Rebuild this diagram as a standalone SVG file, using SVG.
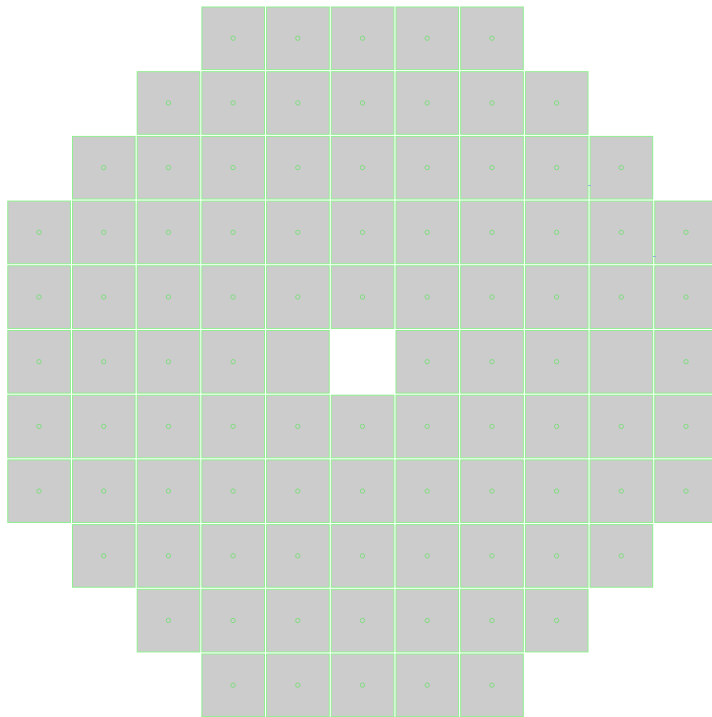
<svg xmlns="http://www.w3.org/2000/svg" width="712" height="717" viewBox="0 0 712 717">
<style>
.cell{fill:#cccccc;stroke:#90ee90;stroke-width:1}
.dot{fill:none;stroke:#80dd80;stroke-width:1}
.tick{stroke:#99aadd;stroke-width:1}
</style>
<rect width="712" height="717" fill="#ffffff"/>
<defs>
<g id="cellDot"><rect class="cell" x="0.5" y="0.5" width="62.6" height="62.6"/><circle class="dot" cx="31.7" cy="31.7" r="2.2"/></g>
<g id="cellPlain"><rect class="cell" x="0.5" y="0.5" width="62.6" height="62.6"/></g>
</defs>
<g id="row0">
<g id="n0_3" transform="translate(201.4,6.5)"><use href="#cellDot"/></g>
<g id="n0_4" transform="translate(266.1,6.5)"><use href="#cellDot"/></g>
<g id="n0_5" transform="translate(330.8,6.5)"><use href="#cellDot"/></g>
<g id="n0_6" transform="translate(395.5,6.5)"><use href="#cellDot"/></g>
<g id="n0_7" transform="translate(460.2,6.5)"><use href="#cellDot"/></g>
</g>
<g id="row1">
<g id="n1_2" transform="translate(136.7,71.2)"><use href="#cellDot"/></g>
<g id="n1_3" transform="translate(201.4,71.2)"><use href="#cellDot"/></g>
<g id="n1_4" transform="translate(266.1,71.2)"><use href="#cellDot"/></g>
<g id="n1_5" transform="translate(330.8,71.2)"><use href="#cellDot"/></g>
<g id="n1_6" transform="translate(395.5,71.2)"><use href="#cellDot"/></g>
<g id="n1_7" transform="translate(460.2,71.2)"><use href="#cellDot"/></g>
<g id="n1_8" transform="translate(524.9,71.2)"><use href="#cellDot"/></g>
</g>
<g id="row2">
<g id="n2_1" transform="translate(72.0,135.9)"><use href="#cellDot"/></g>
<g id="n2_2" transform="translate(136.7,135.9)"><use href="#cellDot"/></g>
<g id="n2_3" transform="translate(201.4,135.9)"><use href="#cellDot"/></g>
<g id="n2_4" transform="translate(266.1,135.9)"><use href="#cellDot"/></g>
<g id="n2_5" transform="translate(330.8,135.9)"><use href="#cellDot"/></g>
<g id="n2_6" transform="translate(395.5,135.9)"><use href="#cellDot"/></g>
<g id="n2_7" transform="translate(460.2,135.9)"><use href="#cellDot"/></g>
<g id="n2_8" transform="translate(524.9,135.9)"><use href="#cellDot"/></g>
<g id="n2_9" transform="translate(589.6,135.9)"><use href="#cellDot"/></g>
</g>
<g id="row3">
<g id="n3_0" transform="translate(7.3,200.6)"><use href="#cellDot"/></g>
<g id="n3_1" transform="translate(72.0,200.6)"><use href="#cellDot"/></g>
<g id="n3_2" transform="translate(136.7,200.6)"><use href="#cellDot"/></g>
<g id="n3_3" transform="translate(201.4,200.6)"><use href="#cellDot"/></g>
<g id="n3_4" transform="translate(266.1,200.6)"><use href="#cellDot"/></g>
<g id="n3_5" transform="translate(330.8,200.6)"><use href="#cellDot"/></g>
<g id="n3_6" transform="translate(395.5,200.6)"><use href="#cellDot"/></g>
<g id="n3_7" transform="translate(460.2,200.6)"><use href="#cellDot"/></g>
<g id="n3_8" transform="translate(524.9,200.6)"><use href="#cellDot"/></g>
<g id="n3_9" transform="translate(589.6,200.6)"><use href="#cellDot"/></g>
<g id="n3_10" transform="translate(654.3,200.6)"><use href="#cellDot"/></g>
</g>
<g id="row4">
<g id="n4_0" transform="translate(7.3,265.3)"><use href="#cellDot"/></g>
<g id="n4_1" transform="translate(72.0,265.3)"><use href="#cellDot"/></g>
<g id="n4_2" transform="translate(136.7,265.3)"><use href="#cellDot"/></g>
<g id="n4_3" transform="translate(201.4,265.3)"><use href="#cellDot"/></g>
<g id="n4_4" transform="translate(266.1,265.3)"><use href="#cellDot"/></g>
<g id="n4_5" transform="translate(330.8,265.3)"><use href="#cellDot"/></g>
<g id="n4_6" transform="translate(395.5,265.3)"><use href="#cellDot"/></g>
<g id="n4_7" transform="translate(460.2,265.3)"><use href="#cellDot"/></g>
<g id="n4_8" transform="translate(524.9,265.3)"><use href="#cellDot"/></g>
<g id="n4_9" transform="translate(589.6,265.3)"><use href="#cellDot"/></g>
<g id="n4_10" transform="translate(654.3,265.3)"><use href="#cellDot"/></g>
</g>
<g id="row5">
<g id="n5_0" transform="translate(7.3,330.0)"><use href="#cellDot"/></g>
<g id="n5_1" transform="translate(72.0,330.0)"><use href="#cellDot"/></g>
<g id="n5_2" transform="translate(136.7,330.0)"><use href="#cellDot"/></g>
<g id="n5_3" transform="translate(201.4,330.0)"><use href="#cellDot"/></g>
<g id="n5_4" transform="translate(266.1,330.0)"><use href="#cellPlain"/></g>
<g id="n5_6" transform="translate(395.5,330.0)"><use href="#cellDot"/></g>
<g id="n5_7" transform="translate(460.2,330.0)"><use href="#cellDot"/></g>
<g id="n5_8" transform="translate(524.9,330.0)"><use href="#cellDot"/></g>
<g id="n5_9" transform="translate(589.6,330.0)"><use href="#cellPlain"/></g>
<g id="n5_10" transform="translate(654.3,330.0)"><use href="#cellDot"/></g>
</g>
<g id="row6">
<g id="n6_0" transform="translate(7.3,394.7)"><use href="#cellDot"/></g>
<g id="n6_1" transform="translate(72.0,394.7)"><use href="#cellDot"/></g>
<g id="n6_2" transform="translate(136.7,394.7)"><use href="#cellDot"/></g>
<g id="n6_3" transform="translate(201.4,394.7)"><use href="#cellDot"/></g>
<g id="n6_4" transform="translate(266.1,394.7)"><use href="#cellDot"/></g>
<g id="n6_5" transform="translate(330.8,394.7)"><use href="#cellDot"/></g>
<g id="n6_6" transform="translate(395.5,394.7)"><use href="#cellDot"/></g>
<g id="n6_7" transform="translate(460.2,394.7)"><use href="#cellDot"/></g>
<g id="n6_8" transform="translate(524.9,394.7)"><use href="#cellDot"/></g>
<g id="n6_9" transform="translate(589.6,394.7)"><use href="#cellDot"/></g>
<g id="n6_10" transform="translate(654.3,394.7)"><use href="#cellDot"/></g>
</g>
<g id="row7">
<g id="n7_0" transform="translate(7.3,459.4)"><use href="#cellDot"/></g>
<g id="n7_1" transform="translate(72.0,459.4)"><use href="#cellDot"/></g>
<g id="n7_2" transform="translate(136.7,459.4)"><use href="#cellDot"/></g>
<g id="n7_3" transform="translate(201.4,459.4)"><use href="#cellDot"/></g>
<g id="n7_4" transform="translate(266.1,459.4)"><use href="#cellDot"/></g>
<g id="n7_5" transform="translate(330.8,459.4)"><use href="#cellDot"/></g>
<g id="n7_6" transform="translate(395.5,459.4)"><use href="#cellDot"/></g>
<g id="n7_7" transform="translate(460.2,459.4)"><use href="#cellDot"/></g>
<g id="n7_8" transform="translate(524.9,459.4)"><use href="#cellDot"/></g>
<g id="n7_9" transform="translate(589.6,459.4)"><use href="#cellDot"/></g>
<g id="n7_10" transform="translate(654.3,459.4)"><use href="#cellDot"/></g>
</g>
<g id="row8">
<g id="n8_1" transform="translate(72.0,524.1)"><use href="#cellDot"/></g>
<g id="n8_2" transform="translate(136.7,524.1)"><use href="#cellDot"/></g>
<g id="n8_3" transform="translate(201.4,524.1)"><use href="#cellDot"/></g>
<g id="n8_4" transform="translate(266.1,524.1)"><use href="#cellDot"/></g>
<g id="n8_5" transform="translate(330.8,524.1)"><use href="#cellDot"/></g>
<g id="n8_6" transform="translate(395.5,524.1)"><use href="#cellDot"/></g>
<g id="n8_7" transform="translate(460.2,524.1)"><use href="#cellDot"/></g>
<g id="n8_8" transform="translate(524.9,524.1)"><use href="#cellDot"/></g>
<g id="n8_9" transform="translate(589.6,524.1)"><use href="#cellDot"/></g>
</g>
<g id="row9">
<g id="n9_2" transform="translate(136.7,588.8)"><use href="#cellDot"/></g>
<g id="n9_3" transform="translate(201.4,588.8)"><use href="#cellDot"/></g>
<g id="n9_4" transform="translate(266.1,588.8)"><use href="#cellDot"/></g>
<g id="n9_5" transform="translate(330.8,588.8)"><use href="#cellDot"/></g>
<g id="n9_6" transform="translate(395.5,588.8)"><use href="#cellDot"/></g>
<g id="n9_7" transform="translate(460.2,588.8)"><use href="#cellDot"/></g>
<g id="n9_8" transform="translate(524.9,588.8)"><use href="#cellDot"/></g>
</g>
<g id="row10">
<g id="n10_3" transform="translate(201.4,653.5)"><use href="#cellDot"/></g>
<g id="n10_4" transform="translate(266.1,653.5)"><use href="#cellDot"/></g>
<g id="n10_5" transform="translate(330.8,653.5)"><use href="#cellDot"/></g>
<g id="n10_6" transform="translate(395.5,653.5)"><use href="#cellDot"/></g>
<g id="n10_7" transform="translate(460.2,653.5)"><use href="#cellDot"/></g>
</g>
<g id="connectors">
<line class="tick" x1="588" y1="185.5" x2="591" y2="185.5"/>
<line class="tick" x1="653" y1="256.5" x2="656" y2="256.5"/>
</g>
</svg>
